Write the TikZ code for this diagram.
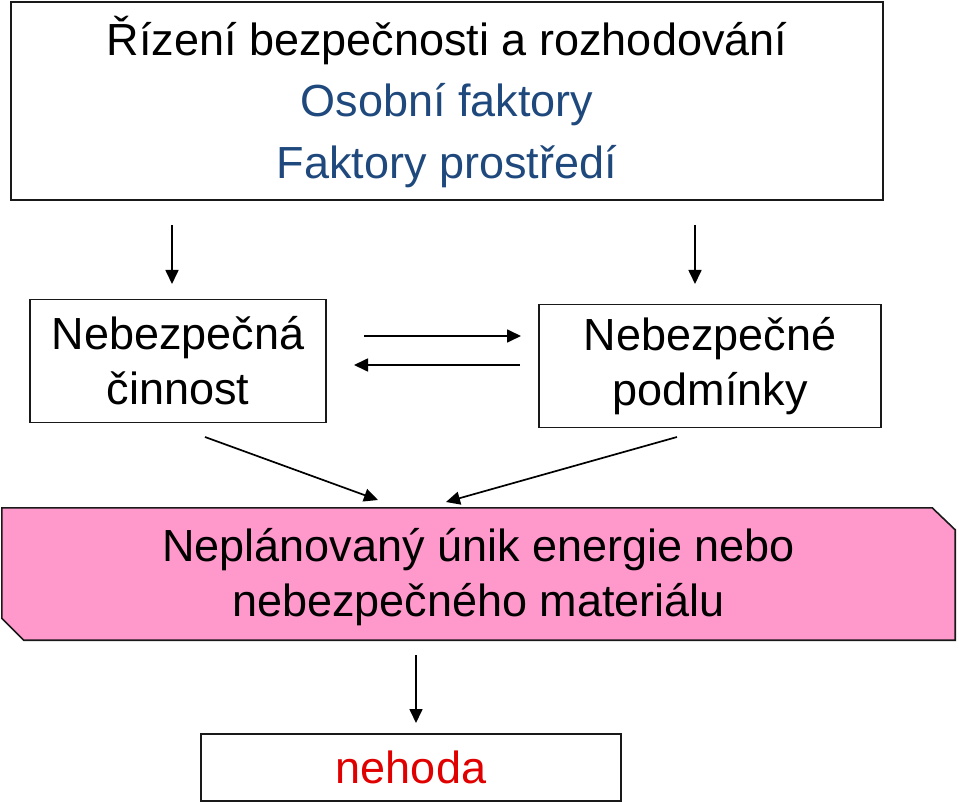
\documentclass[tikz,border=0pt]{standalone}
\usepackage{fontspec}
\setmainfont{Liberation Sans}
\usetikzlibrary{arrows.meta,calc}
\definecolor{tblue}{RGB}{31,73,125}
\definecolor{tred}{RGB}{224,0,0}
\definecolor{tpink}{RGB}{255,153,204}
\begin{document}
\begin{tikzpicture}[x=1pt,y=-1pt,
  every node/.style={font=\fontsize{45}{55}\selectfont, inner sep=0pt, align=center},
  box/.style={draw=black!90, line width=1.6pt, rectangle},
  arr/.style={draw=black, line width=1.7pt, -{Triangle[length=14pt,width=13pt]}}]
\useasboundingbox (0,0) rectangle (959,802);
% top box
\node[box, minimum width=872pt, minimum height=198pt] (top) at (447,101) {};
\node (t1) at (447,41) {Řízení bezpečnosti a rozhodování};
\node[text=tblue] (t2) at (447,105) {Osobní faktory};
\node[text=tblue] (t3) at (447,167) {Faktory prostředí};
% middle boxes
\node[box, minimum width=296pt, minimum height=123pt] (act) at (178,361) {Nebezpečná\\činnost};
\node[box, minimum width=342pt, minimum height=123pt] (cond) at (710,366) {Nebezpečné\\podmínky};
% pink box
\node[minimum width=953pt, minimum height=132pt] (leak) at (478.5,574) {};
\draw[draw=black!90, line width=1.6pt, fill=tpink]
  (leak.north west) -- ($(leak.north east)+(-23,0)$) -- ($(leak.north east)+(0,22)$)
  -- (leak.south east) -- ($(leak.south west)+(22,0)$) -- ($(leak.south west)+(0,-22)$) -- cycle;
\node (leaktext) at ($(leak.center)+(0,3)$) {Neplánovaný únik energie nebo\\nebezpečného materiálu};
% nehoda
\node[box, minimum width=420pt, minimum height=67pt, text=tred] (acc) at (411,767.5) {nehoda};
% arrow coordinates
\coordinate (a1s) at (172,225); \coordinate (a1e) at (172,284);
\coordinate (a2s) at (695,225); \coordinate (a2e) at (695,284);
\coordinate (h1s) at (364,336); \coordinate (h1e) at (521,336);
\coordinate (h2s) at (520,365); \coordinate (h2e) at (354,365);
\coordinate (d1s) at (205,437); \coordinate (d1e) at (378,500);
\coordinate (d2s) at (677,437); \coordinate (d2e) at (446,502);
\coordinate (vs) at (416,655); \coordinate (ve) at (416,723);
\draw[arr] (a1s) -- (a1e);
\draw[arr] (a2s) -- (a2e);
\draw[arr] (h1s) -- (h1e);
\draw[arr] (h2s) -- (h2e);
\draw[arr] (d1s) -- (d1e);
\draw[arr] (d2s) -- (d2e);
\draw[arr] (vs) -- (ve);
\end{tikzpicture}
\end{document}
